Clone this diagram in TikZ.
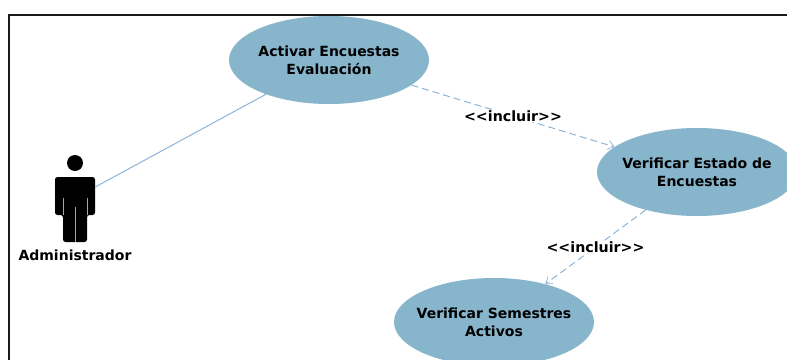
\documentclass[tikz,border=0pt]{standalone}
\usepackage{fontspec}
\setmainfont{DejaVu Sans}
\usetikzlibrary{shapes.geometric,arrows.meta}
\definecolor{ucfill}{HTML}{87B5CC}
\definecolor{linkblue}{HTML}{8DB3D9}
\definecolor{frameink}{HTML}{1A1A1A}
\newcommand{\uclines}[2]{\makebox[0pt]{\raisebox{-5.5pt}[18pt][18pt]{\begin{tabular}{@{}c@{}}#1\\#2\end{tabular}}}}
\tikzset{
  usecase/.style={ellipse,fill=ucfill,inner sep=0pt,minimum width=200pt,minimum height=88pt,font=\bfseries\fontsize{14}{18}\selectfont,text=black},
  assoc/.style={draw=linkblue,line width=1pt},
  incl/.style={draw=linkblue,line width=1pt,dash pattern=on 7pt off 4pt,-{Straight Barb[length=6pt,width=9pt,line width=0.7pt]}},
  stereo/.style={fill=white,inner sep=1pt,font=\bfseries\fontsize{14.2}{17}\selectfont,text=black},
  actorbox/.style={inner sep=0pt,minimum width=40pt,minimum height=90pt}
}
\begin{document}
\begin{tikzpicture}[x=1pt,y=-1pt]
\useasboundingbox (0,0) rectangle (787,359);
\clip (0,0) rectangle (787,359);
\draw[frameink,line width=2pt] (9,360) -- (9,14.5) -- (788,14.5);
\node[usecase] (uc1) at (329,60) {\uclines{Activar Encuestas}{Evaluación}};
\node[usecase] (uc2) at (697,172) {\uclines{Verificar Estado de}{Encuestas}};
\node[usecase] (uc3) at (494,322) {\uclines{Verificar Semestres}{Activos}};
\node[actorbox] (actor) at (75,198) {};
\fill[black] (75,163) circle (8);
\fill[black,rounded corners=2.5pt] (55,215) -- (55,177) -- (95,177) -- (95,215) -- (87,215) -- (87,242) -- (63,242) -- (63,215) -- cycle;
\draw[gray!70,line width=0.6pt] (63,198) -- (63,215) (87,198) -- (87,215) (75,207) -- (75,242);
\node[font=\bfseries\fontsize{14}{17}\selectfont,text=black] (actorname) at (75,255) {Administrador};
\draw[assoc] (actor) -- (uc1);
\draw[incl] (uc1) -- node[stereo] (l1) {<{}<incluir>{}>} (uc2);
\draw[incl] (uc2) -- node[stereo] (l2) {<{}<incluir>{}>} (uc3);
\end{tikzpicture}
\end{document}
